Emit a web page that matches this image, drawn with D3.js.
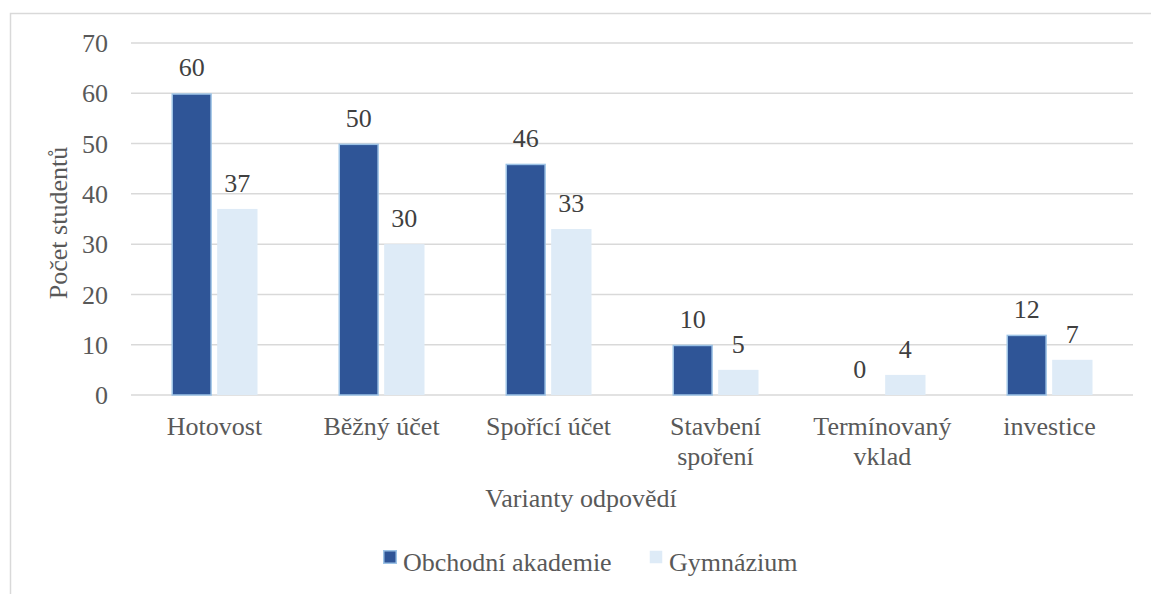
<!DOCTYPE html>
<html><head><meta charset="utf-8">
<script src="https://cdn.jsdelivr.net/npm/d3@7"></script>
<style>body{margin:0;background:#fff}svg{display:block}svg text{font-family:"Liberation Serif",serif}</style>
</head><body>
<svg id="c" width="1151" height="594"></svg>
<script>
const categories = [["Hotovost"],["Běžný účet"],["Spořící účet"],["Stavbení","spoření"],["Termínovaný","vklad"],["investice"]];
const seriesNames = ["Obchodní akademie","Gymnázium"];
const obchodni = [60,50,46,10,0,12];
const gymnazium = [37,30,33,5,4,7];
const yTicks = [0,10,20,30,40,50,60,70];
const yTitle = "Počet studentů";
const xTitle = "Varianty odpovědí";

const fills = ["#2F5597","#DEEBF7"];
const strokes = ["#9DC3E6","none"];
const font = "Liberation Serif";
const svg = d3.select("#c");
const m = {l:131, r:1133, t:43, b:395};

svg.append("rect").attr("x",10.5).attr("y",13.5).attr("width",1150).attr("height",600)
  .attr("fill","none").attr("stroke","#d9d9d9").attr("stroke-width",1.5);

const x = d3.scaleBand().domain(d3.range(categories.length)).range([m.l,m.r]);
const y = d3.scaleLinear().domain([0,70]).range([m.b,m.t]);
const xs = d3.scaleBand().domain([0,1]).range([0,86]).paddingInner(10/86);

const g = svg.append("g");
g.selectAll("line.grid").data(yTicks).join("line")
  .attr("x1",m.l).attr("x2",m.r).attr("y1",d=>y(d)).attr("y2",d=>y(d))
  .attr("stroke","#d9d9d9").attr("stroke-width",1.5);

const yAxis = d3.axisLeft(y).tickValues(yTicks).tickSize(0).tickPadding(0);
const ya = svg.append("g").attr("transform","translate(108,0)").call(yAxis)
  .attr("font-family",font).attr("font-size",26);
ya.select(".domain").remove();
ya.selectAll("text").style("font-family",font).attr("font-size",26).attr("fill","#595959").attr("dy","0.33em");

const series = [obchodni, gymnazium];
series.forEach((vals,si)=>{
  const off = x.bandwidth()/2 - 43;
  svg.append("g").selectAll("rect").data(vals).join("rect")
    .attr("x",(d,i)=>x(i)+off+xs(si)+(si===0?0.75:0))
    .attr("width",xs.bandwidth()-(si===0?1.5:0))
    .attr("y",d=>y(d)+(si===0?0.75:0))
    .attr("height",d=>Math.max(0,y(0)-y(d)-(si===0?0.75:0)))
    .attr("fill",fills[si]).attr("stroke",d=>d>0?strokes[si]:"none").attr("stroke-width",1.5);
  svg.append("g").selectAll("text").data(vals).join("text")
    .attr("x",(d,i)=>x(i)+off+xs(si)+xs.bandwidth()/2)
    .attr("y",d=>y(d)-17)
    .attr("text-anchor","middle").style("font-family",font).attr("font-size",26).attr("fill","#404040")
    .text(d=>d);
});

const xl = svg.append("g");
categories.forEach((lines,i)=>{
  const t = xl.append("text").attr("text-anchor","middle").style("font-family",font).attr("font-size",26).attr("fill","#595959");
  lines.forEach((ln,j)=>t.append("tspan").attr("x",x(i)+x.bandwidth()/2).attr("y",435+j*30).text(ln));
});

svg.append("text").attr("transform","translate(67,"+((m.t+m.b)/2+4)+") rotate(-90)")
  .attr("text-anchor","middle").style("font-family",font).attr("font-size",26).attr("fill","#595959").text(yTitle);
svg.append("text").attr("x",581).attr("y",507)
  .attr("text-anchor","middle").style("font-family",font).attr("font-size",26).attr("fill","#595959").text(xTitle);

const legX = [383,649];
seriesNames.forEach((n,i)=>{
  svg.append("rect").attr("x",legX[i]+0.75).attr("y",550.75).attr("width",12.5).attr("height",12.5)
    .attr("fill",fills[i]).attr("stroke",strokes[i]).attr("stroke-width",1.5);
  svg.append("text").attr("x",legX[i]+20).attr("y",571).style("font-family",font).attr("font-size",26).attr("fill","#595959").text(n);
});
</script>
</body></html>
